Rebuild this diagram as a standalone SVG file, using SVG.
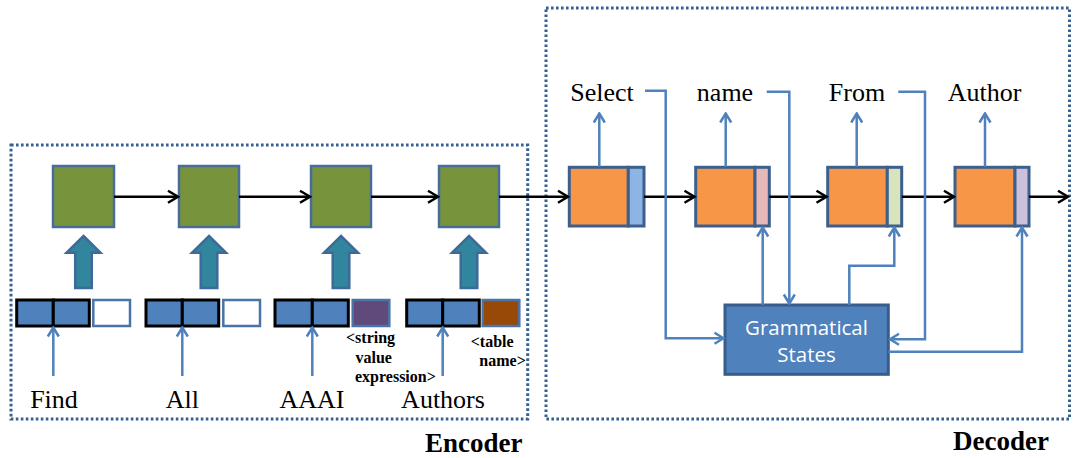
<svg xmlns="http://www.w3.org/2000/svg" xmlns:xlink="http://www.w3.org/1999/xlink" width="1073" height="458" viewBox="0 0 1073 458">
<style>
.frame{fill:none;stroke:#35608F;stroke-width:3;stroke-dasharray:2.6 2.4}
.green{fill:#77933C;stroke:#4A6C9B;stroke-width:2.5}
.orange{fill:#F79646;stroke:#3C5F8C;stroke-width:3}
.blue{fill:#4F81BD;stroke:#000;stroke-width:3}
.side{stroke:#4A73A8;stroke-width:2.5}
.teal{fill:#31859C;stroke:#3D6A99;stroke-width:2.5}
.gs{fill:#4F81BD;stroke:#385D8A;stroke-width:3}
.blk{fill:none;stroke:#000;stroke-width:2.5;marker-end:url(#ahk)}
.con{fill:none;stroke:#4F81BD;stroke-width:2.5;marker-end:url(#ahb)}
.word{font-family:"Liberation Serif","Times New Roman",serif;font-size:26px;fill:#000;text-anchor:middle}
.tag{font-family:"Liberation Serif","Times New Roman",serif;font-size:16px;font-weight:bold;fill:#000}
.title{font-family:"Liberation Serif","Times New Roman",serif;font-size:27px;font-weight:bold;fill:#000}
.gstext{font-family:"Open Sans","Liberation Sans",sans-serif;font-size:20.5px;fill:#fff;text-anchor:middle}
</style>
<defs>
<marker id="ahk" markerUnits="userSpaceOnUse" markerWidth="14" markerHeight="16" viewBox="0 0 14 16" refX="12" refY="8" orient="auto"><path d="M2,2 L12,8 L2,14" fill="none" stroke="#000" stroke-width="2.5"/></marker>
<marker id="ahb" markerUnits="userSpaceOnUse" markerWidth="13" markerHeight="14" viewBox="0 0 13 14" refX="11" refY="7" orient="auto"><path d="M2,1.5 L11,7 L2,12.5" fill="none" stroke="#4F81BD" stroke-width="2.5"/></marker>
<path id="bigup" class="teal" d="M0,0 L17,16.7 L8.3,16.7 L8.3,52 L-8.3,52 L-8.3,16.7 L-17,16.7 Z"/>
</defs>

<g id="encoder-frame">
<rect class="frame" x="11" y="145" width="516.7" height="274"/>
<text class="title" x="425" y="451.5">Encoder</text>
</g>
<g id="decoder-frame">
<rect class="frame" x="546" y="8" width="523.5" height="411"/>
<text class="title" x="953" y="450">Decoder</text>
</g>

<g id="enc1"><rect class="green" x="53" y="166" width="61" height="61"/><use xlink:href="#bigup" x="83.5" y="236"/></g>
<g id="enc2"><rect class="green" x="179" y="166" width="60" height="61"/><use xlink:href="#bigup" x="209" y="236"/></g>
<g id="enc3"><rect class="green" x="311" y="166" width="60" height="61"/><use xlink:href="#bigup" x="341" y="236"/></g>
<g id="enc4"><rect class="green" x="439" y="166" width="60" height="61"/><use xlink:href="#bigup" x="469" y="236"/></g>

<g id="input1">
<rect class="blue" x="16.7" y="300" width="36.6" height="26"/><rect class="blue" x="53.3" y="300" width="36" height="26"/>
<rect class="side" fill="#fff" x="93.3" y="300" width="36.7" height="26"/>
<text class="word" x="54" y="407.7">Find</text>
</g>
<g id="input2">
<rect class="blue" x="146" y="300" width="36.3" height="26"/><rect class="blue" x="182.3" y="300" width="36.4" height="26"/>
<rect class="side" fill="#fff" x="223.3" y="300" width="36.7" height="26"/>
<text class="word" x="182.3" y="407.7">All</text>
</g>
<g id="input3">
<rect class="blue" x="275" y="300" width="37.3" height="26"/><rect class="blue" x="312.3" y="300" width="36" height="26"/>
<rect class="side" fill="#604A7B" x="352.7" y="300" width="36.6" height="26"/>
<text class="word" x="312" y="407.7">AAAI</text>
<text class="tag" x="346" y="343.3">&lt;string</text>
<text class="tag" x="355.5" y="363">value</text>
<text class="tag" x="355" y="382">expression&gt;</text>
</g>
<g id="input4">
<rect class="blue" x="406.7" y="300" width="36" height="26"/><rect class="blue" x="442.7" y="300" width="36.6" height="26"/>
<rect class="side" fill="#984807" x="482.7" y="300" width="36.6" height="26"/>
<text class="word" x="443" y="407.7">Authors</text>
<text class="tag" x="470.7" y="346.7">&lt;table</text>
<text class="tag" x="479.3" y="366">name&gt;</text>
</g>

<g id="dec1"><rect class="orange" x="569.3" y="167.3" width="59" height="58.7"/><rect class="orange" style="fill:#8EB4E3" x="628.3" y="167.3" width="15.7" height="58.7"/><text class="word" x="602" y="100.7">Select</text></g>
<g id="dec2"><rect class="orange" x="695.7" y="167.3" width="59.3" height="58.7"/><rect class="orange" style="fill:#E6B9B8" x="755" y="167.3" width="14.3" height="58.7"/><text class="word" x="725" y="100.7">name</text></g>
<g id="dec3"><rect class="orange" x="827.7" y="167.3" width="59.6" height="58.7"/><rect class="orange" style="fill:#D7E4BD" x="887.3" y="167.3" width="14.4" height="58.7"/><text class="word" x="857" y="100.7">From</text></g>
<g id="dec4"><rect class="orange" x="955" y="167.3" width="60" height="58.7"/><rect class="orange" style="fill:#CCC1DA" x="1015" y="167.3" width="14" height="58.7"/><text class="word" x="984.5" y="100.7">Author</text></g>

<g id="grammatical-states">
<rect class="gs" x="725" y="305" width="163.3" height="69.3"/>
<text class="gstext" x="806.5" y="334.5">Grammatical</text>
<text class="gstext" x="806.5" y="362">States</text>
</g>

<g id="connectors">
<path class="blk" d="M114,196.7 H178"/>
<path class="blk" d="M239,196.7 H310"/>
<path class="blk" d="M371,196.7 H438"/>
<path class="blk" d="M499,196.7 H568"/>
<path class="blk" d="M644,196.7 H694.5"/>
<path class="blk" d="M769.3,196.7 H826.5"/>
<path class="blk" d="M901.7,196.7 H954"/>
<path class="blk" d="M1029,196.7 H1068"/>
<path class="con" d="M53.3,376 V327.5"/>
<path class="con" d="M182.3,376 V327.5"/>
<path class="con" d="M312.3,376 V327.5"/>
<path class="con" d="M442.7,376 V327.5"/>
<path class="con" d="M599.3,167 V113.5"/>
<path class="con" d="M725.7,167 V113.5"/>
<path class="con" d="M856.7,167 V113.5"/>
<path class="con" d="M985,167 V113.5"/>
<path class="con" d="M645,90.7 H665.7 V338.3 H723.5"/>
<path class="con" d="M766.7,91.7 H789.3 V303.5"/>
<path class="con" d="M898.3,91.7 H925 V339.3 H890"/>
<path class="con" d="M762.7,305 V227.5"/>
<path class="con" d="M849.3,305 V265.7 H894.3 V227.5"/>
<path class="con" d="M888.3,351.7 H1022 V227.5"/>
</g>
</svg>
